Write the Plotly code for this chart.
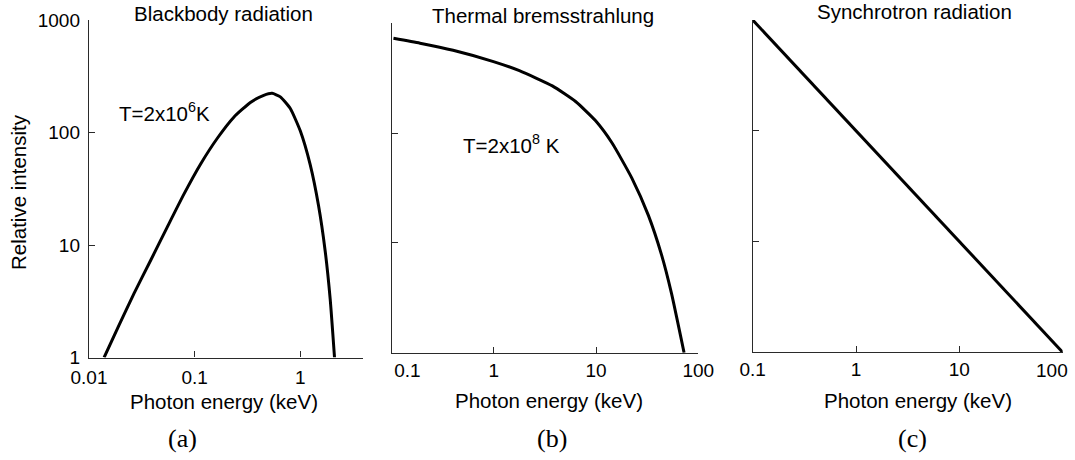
import math
import plotly.graph_objects as go

W, H = 1075, 460

# Blackbody spectrum, T = 2e6 K
bb_energy = [0.0139, 0.0193, 0.0267, 0.0385, 0.0552, 0.0792, 0.114, 0.164, 0.235,
             0.337, 0.451, 0.541, 0.648, 0.805, 1.0, 1.24, 1.49, 1.72, 1.92, 2.11]
bb_intensity = [1.0, 1.95, 3.72, 7.36, 14.5, 28.3, 52.5, 88.9, 136.8,
                185, 214, 223, 207.5, 163.4, 103.5, 52.0, 22.3, 8.9, 3.3, 1.0]

# Thermal bremsstrahlung, T = 2e8 K
br_energy = [0.1045, 0.190, 0.40, 0.993, 1.78, 3.74, 6.31, 9.86, 14.3,
             22.4, 32.5, 43.8, 54.7, 72.6]
br_intensity = [730, 659, 568, 448, 370, 269, 194, 130, 81.6,
                38.9, 17.8, 7.74, 3.47, 1.0]

# Synchrotron power law
sy_energy = [0.1, 100]
sy_intensity = [1000, 1]

panel_titles = ["Blackbody radiation", "Thermal bremsstrahlung", "Synchrotron radiation"]
panel_tags = ["(a)", "(b)", "(c)"]
temp_labels = ["T=2x10<sup>6</sup>K", "T=2x10<sup>8</sup> K"]
x_title = "Photon energy (keV)"
y_title = "Relative intensity"

NB = "&nbsp;"
x_tick_vals_a = [0.01, 0.1, 1, 3.9]
x_tick_text_a = ["0.01", "0.1", "1", ""]
x_tick_vals_bc = [0.1, 1, 10, 100]
x_tick_text_b = [NB * 6 + "0.1", "1", "10", "100"]
x_tick_text_c = ["0.1", "1", "10", "100"]
y_tick_vals = [1, 10, 100, 1000]
y_tick_text = ["1", "10", "100", "1000"]


def fx(px):
    return px / W


def fy(py):
    return 1 - py / H


SANS = "Liberation Sans, Arial, sans-serif"
SERIF = "Liberation Serif, DejaVu Serif, serif"
AXIS_COLOR = "#2a2a2a"
LINE = dict(color="black", width=3, shape="spline", smoothing=0.5)

fig = go.Figure()
fig.add_trace(go.Scatter(x=bb_energy, y=bb_intensity, mode="lines", line=LINE,
                         xaxis="x", yaxis="y", showlegend=False))
fig.add_trace(go.Scatter(x=br_energy, y=br_intensity, mode="lines", line=LINE,
                         xaxis="x2", yaxis="y2", showlegend=False))
fig.add_trace(go.Scatter(x=sy_energy, y=sy_intensity, mode="lines",
                         line=dict(color="black", width=3),
                         xaxis="x3", yaxis="y3", showlegend=False))

common = dict(type="log", showline=True, linecolor=AXIS_COLOR, linewidth=1.4,
              ticks="inside", ticklen=6, tickwidth=1.2, tickcolor=AXIS_COLOR,
              showgrid=False, zeroline=False, automargin=False,
              tickfont=dict(family=SANS, size=19, color="black"))

# panel pixel boxes: (left, right, top, bottom)
boxes = [(89, 362.7, 20, 357.5), (391.5, 698.3, 23.3, 352.7), (752.7, 1062.7, 20, 352.3)]
x_ranges = [[-2, math.log10(3.9)], [-1, 2], [-1, 2]]
x_standoffs = [2, 0, 0]

# the last label of panel (c) sits at the page edge, so it is drawn separately
x_axis_ticks = [
    (x_tick_vals_a, x_tick_text_a),
    (x_tick_vals_bc, x_tick_text_b),
    (x_tick_vals_bc, x_tick_text_c[:-1] + [""]),
]

for i, (l, r, t, b) in enumerate(boxes):
    sfx = "" if i == 0 else str(i + 1)
    vals, texts = x_axis_ticks[i]
    if i == 0:
        yt = dict(tickvals=y_tick_vals, ticktext=y_tick_text, ticklabelstandoff=4)
    else:
        yt = dict(tickvals=y_tick_vals, showticklabels=False)
    fig.update_layout(**{
        "xaxis" + sfx: dict(common, domain=[fx(l), fx(r)], range=x_ranges[i],
                            anchor="y" + sfx, ticklabelstandoff=x_standoffs[i],
                            tickvals=vals, ticktext=texts),
        "yaxis" + sfx: dict(common, domain=[fy(b), fy(t)], range=[0, 3],
                            anchor="x" + sfx, **yt),
    })

annotations = []
title_pos = [(223, 13.3), (543.3, 15), (914, 11.7)]
xtitle_pos = [(224, 401.7), (549, 400), (918, 400.7)]
tag_pos = [(182.7, 438), (551.7, 438), (912.7, 438)]
for i in range(3):
    annotations.append(dict(text=panel_titles[i], x=fx(title_pos[i][0]), y=fy(title_pos[i][1]),
                            xref="paper", yref="paper", showarrow=False,
                            xanchor="center", yanchor="middle",
                            font=dict(family=SANS, size=20.5, color="black")))
    annotations.append(dict(text=x_title, x=fx(xtitle_pos[i][0]), y=fy(xtitle_pos[i][1]),
                            xref="paper", yref="paper", showarrow=False,
                            xanchor="center", yanchor="middle",
                            font=dict(family=SANS, size=20.5, color="black")))
    annotations.append(dict(text=panel_tags[i], x=fx(tag_pos[i][0]), y=fy(tag_pos[i][1]),
                            xref="paper", yref="paper", showarrow=False,
                            xanchor="center", yanchor="middle",
                            font=dict(family=SERIF, size=26, color="black")))

# right-most energy label of panel (c), kept inside the page
annotations.append(dict(text=x_tick_text_c[-1], x=fx(1070), y=fy(370.5), xref="paper",
                        yref="paper", showarrow=False, xanchor="right", yanchor="middle",
                        font=dict(family=SANS, size=19, color="black")))

annotations.append(dict(text=y_title, x=fx(18), y=fy(192), xref="paper", yref="paper",
                        showarrow=False, textangle=-90, xanchor="center", yanchor="middle",
                        font=dict(family=SANS, size=20.5, color="black")))
annotations.append(dict(text=temp_labels[0], x=fx(117), y=fy(112), xref="paper", yref="paper",
                        showarrow=False, xanchor="left", yanchor="middle",
                        font=dict(family=SANS, size=20.5, color="black")))
annotations.append(dict(text=temp_labels[1], x=fx(460.5), y=fy(144), xref="paper", yref="paper",
                        showarrow=False, xanchor="left", yanchor="middle",
                        font=dict(family=SANS, size=20.5, color="black")))

fig.update_layout(width=W, height=H, margin=dict(l=0, r=0, t=0, b=0),
                  paper_bgcolor="white", plot_bgcolor="white",
                  annotations=annotations)

fig.write_html("out.html")
